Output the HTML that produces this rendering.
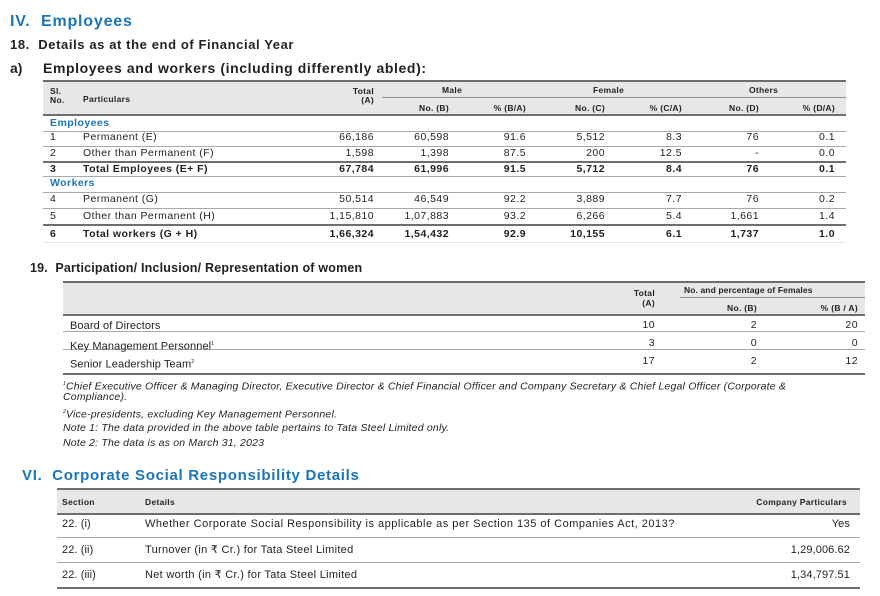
<!DOCTYPE html>
<html><head><meta charset="utf-8"><style>
*{margin:0;padding:0;box-sizing:border-box}
body{width:880px;height:596px;background:#fff;position:relative;overflow:hidden;font-family:"Liberation Sans",sans-serif;color:#231f20}
.t{position:absolute;white-space:nowrap;font-size:10px;line-height:12px}
.d{font-size:10.5px;letter-spacing:0.45px}
.r{text-align:right}
.b{font-weight:bold}
.blue{color:#1a75bb}
.hd{font-size:8.5px;font-weight:bold;letter-spacing:0.3px}
.band{position:absolute;background:#e6e7e8}
.ln{position:absolute;height:1px;background:#a7a9ac}
.dk{background:#6d6e71;height:2px}
.n{font-size:11px;letter-spacing:0.1px}
.it{font-style:italic;font-size:10.5px;letter-spacing:0.2px}
</style></head><body>
<div class="t b blue" style="left:10px;top:13px;font-size:16px;line-height:18px;letter-spacing:0.8px">IV.&nbsp; Employees</div>
<div class="t b" style="left:10px;top:38px;font-size:13px;line-height:14px;letter-spacing:0.6px">18.&nbsp; Details as at the end of Financial Year</div>
<div class="t b" style="left:10px;top:60px;font-size:14px;line-height:16px">a)</div>
<div class="t b" style="left:43px;top:60px;font-size:14px;line-height:16px;letter-spacing:0.6px">Employees and workers (including differently abled):</div>

<!-- Table 1 -->
<div class="band" style="left:43px;top:81px;width:803px;height:34px"></div>
<div class="ln dk" style="left:43px;top:80px;width:803px"></div>
<div class="ln" style="left:382px;top:97px;width:464px;background:#8a8c8e"></div>
<div class="ln dk" style="left:43px;top:114px;width:803px"></div>
<div class="t hd" style="left:50px;top:87px;line-height:9px">Sl.<br>No.</div>
<div class="t hd" style="left:83px;top:93px">Particulars</div>
<div class="t hd r" style="right:506px;top:87px;line-height:9px">Total<br>(A)</div>
<div class="t hd" style="left:442px;top:84px">Male</div>
<div class="t hd" style="left:593px;top:84px">Female</div>
<div class="t hd" style="left:749px;top:84px">Others</div>
<div class="t hd r" style="right:431px;top:102px">No. (B)</div>
<div class="t hd r" style="right:354px;top:102px">% (B/A)</div>
<div class="t hd r" style="right:275px;top:102px">No. (C)</div>
<div class="t hd r" style="right:198px;top:102px">% (C/A)</div>
<div class="t hd r" style="right:121px;top:102px">No. (D)</div>
<div class="t hd r" style="right:45px;top:102px">% (D/A)</div>

<div class="t b blue d" style="left:50px;top:117px">Employees</div>
<div class="ln" style="left:43px;top:131px;width:803px"></div>
<div class="ln" style="left:43px;top:146px;width:803px"></div>
<div class="ln dk" style="left:43px;top:161px;width:803px"></div>
<div class="ln" style="left:43px;top:176px;width:803px"></div>
<div class="t b blue d" style="left:50px;top:177px">Workers</div>
<div class="ln" style="left:43px;top:192px;width:803px"></div>
<div class="ln" style="left:43px;top:208px;width:803px"></div>
<div class="ln dk" style="left:43px;top:224px;width:803px"></div>
<div class="ln" style="left:43px;top:242px;width:803px;background:#e6e7e8"></div>

<div class="t d" style="left:50px;top:131px">1</div><div class="t d" style="left:83px;top:131px">Permanent (E)</div>
<div class="t r d" style="right:506px;top:131px">66,186</div><div class="t r d" style="right:431px;top:131px">60,598</div><div class="t r d" style="right:354px;top:131px">91.6</div><div class="t r d" style="right:275px;top:131px">5,512</div><div class="t r d" style="right:198px;top:131px">8.3</div><div class="t r d" style="right:121px;top:131px">76</div><div class="t r d" style="right:45px;top:131px">0.1</div>

<div class="t d" style="left:50px;top:147px">2</div><div class="t d" style="left:83px;top:147px">Other than Permanent (F)</div>
<div class="t r d" style="right:506px;top:147px">1,598</div><div class="t r d" style="right:431px;top:147px">1,398</div><div class="t r d" style="right:354px;top:147px">87.5</div><div class="t r d" style="right:275px;top:147px">200</div><div class="t r d" style="right:198px;top:147px">12.5</div><div class="t r d" style="right:121px;top:147px">-</div><div class="t r d" style="right:45px;top:147px">0.0</div>

<div class="t b d" style="left:50px;top:163px">3</div><div class="t b d" style="left:83px;top:163px">Total Employees (E+ F)</div>
<div class="t r b d" style="right:506px;top:163px">67,784</div><div class="t r b d" style="right:431px;top:163px">61,996</div><div class="t r b d" style="right:354px;top:163px">91.5</div><div class="t r b d" style="right:275px;top:163px">5,712</div><div class="t r b d" style="right:198px;top:163px">8.4</div><div class="t r b d" style="right:121px;top:163px">76</div><div class="t r b d" style="right:45px;top:163px">0.1</div>

<div class="t d" style="left:50px;top:193px">4</div><div class="t d" style="left:83px;top:193px">Permanent (G)</div>
<div class="t r d" style="right:506px;top:193px">50,514</div><div class="t r d" style="right:431px;top:193px">46,549</div><div class="t r d" style="right:354px;top:193px">92.2</div><div class="t r d" style="right:275px;top:193px">3,889</div><div class="t r d" style="right:198px;top:193px">7.7</div><div class="t r d" style="right:121px;top:193px">76</div><div class="t r d" style="right:45px;top:193px">0.2</div>

<div class="t d" style="left:50px;top:210px">5</div><div class="t d" style="left:83px;top:210px">Other than Permanent (H)</div>
<div class="t r d" style="right:506px;top:210px">1,15,810</div><div class="t r d" style="right:431px;top:210px">1,07,883</div><div class="t r d" style="right:354px;top:210px">93.2</div><div class="t r d" style="right:275px;top:210px">6,266</div><div class="t r d" style="right:198px;top:210px">5.4</div><div class="t r d" style="right:121px;top:210px">1,661</div><div class="t r d" style="right:45px;top:210px">1.4</div>

<div class="t b d" style="left:50px;top:228px">6</div><div class="t b d" style="left:83px;top:228px">Total workers (G + H)</div>
<div class="t r b d" style="right:506px;top:228px">1,66,324</div><div class="t r b d" style="right:431px;top:228px">1,54,432</div><div class="t r b d" style="right:354px;top:228px">92.9</div><div class="t r b d" style="right:275px;top:228px">10,155</div><div class="t r b d" style="right:198px;top:228px">6.1</div><div class="t r b d" style="right:121px;top:228px">1,737</div><div class="t r b d" style="right:45px;top:228px">1.0</div>

<!-- Table 2 -->
<div class="t b" style="left:30px;top:261px;font-size:12.5px;line-height:14px;letter-spacing:0.2px">19.&nbsp; Participation/ Inclusion/ Representation of women</div>
<div class="band" style="left:63px;top:282px;width:802px;height:33px"></div>
<div class="ln dk" style="left:63px;top:281px;width:802px"></div>
<div class="ln" style="left:680px;top:297px;width:185px;background:#8a8c8e"></div>
<div class="ln dk" style="left:63px;top:314px;width:802px"></div>
<div class="t hd r" style="right:225px;top:288px;line-height:10px">Total<br>(A)</div>
<div class="t hd" style="left:684px;top:284px;letter-spacing:0.1px">No. and percentage of Females</div>
<div class="t hd r" style="right:123px;top:302px">No. (B)</div>
<div class="t hd r" style="right:22px;top:302px">% (B / A)</div>
<div class="ln" style="left:63px;top:331px;width:802px"></div>
<div class="ln" style="left:63px;top:349px;width:802px"></div>
<div class="ln dk" style="left:63px;top:373px;width:802px"></div>
<div class="t n" style="left:70px;top:320px">Board of Directors</div>
<div class="t r d" style="right:225px;top:319px">10</div><div class="t r d" style="right:123px;top:319px">2</div><div class="t r d" style="right:22px;top:319px">20</div>
<div class="t n" style="left:70px;top:338px">Key Management Personnel<sup style="font-size:5px">1</sup></div>
<div class="t r d" style="right:225px;top:337px">3</div><div class="t r d" style="right:123px;top:337px">0</div><div class="t r d" style="right:22px;top:337px">0</div>
<div class="t n" style="left:70px;top:356px">Senior Leadership Team<sup style="font-size:5px">2</sup></div>
<div class="t r d" style="right:225px;top:355px">17</div><div class="t r d" style="right:123px;top:355px">2</div><div class="t r d" style="right:22px;top:355px">12</div>
<div class="t it" style="left:63px;top:378px"><sup style="font-size:5px">1</sup>Chief Executive Officer &amp; Managing Director, Executive Director &amp; Chief Financial Officer and Company Secretary &amp; Chief Legal Officer (Corporate &amp;</div>
<div class="t it" style="left:63px;top:391px">Compliance).</div>
<div class="t it" style="left:63px;top:406px"><sup style="font-size:5px">2</sup>Vice-presidents, excluding Key Management Personnel.</div>
<div class="t it" style="left:63px;top:422px">Note 1: The data provided in the above table pertains to Tata Steel Limited only.</div>
<div class="t it" style="left:63px;top:437px">Note 2: The data is as on March 31, 2023</div>

<!-- Table 3 -->
<div class="t b blue" style="left:22px;top:467px;font-size:15px;line-height:17px;letter-spacing:0.7px">VI.&nbsp; Corporate Social Responsibility Details</div>
<div class="band" style="left:57px;top:489px;width:803px;height:25px"></div>
<div class="ln dk" style="left:57px;top:488px;width:803px"></div>
<div class="ln dk" style="left:57px;top:513px;width:803px"></div>
<div class="t hd" style="left:62px;top:496px">Section</div>
<div class="t hd" style="left:145px;top:496px">Details</div>
<div class="t hd r" style="right:33px;top:496px">Company Particulars</div>
<div class="ln" style="left:57px;top:537px;width:803px"></div>
<div class="ln" style="left:57px;top:562px;width:803px"></div>
<div class="ln dk" style="left:57px;top:587px;width:803px"></div>
<div class="t n" style="left:62px;top:518px">22. (i)</div>
<div class="t n" style="left:145px;top:518px;letter-spacing:0.5px">Whether Corporate Social Responsibility is applicable as per Section 135 of Companies Act, 2013?</div>
<div class="t n r" style="right:30px;top:518px">Yes</div>
<div class="t n" style="left:62px;top:544px">22. (ii)</div>
<div class="t n" style="left:145px;top:544px;letter-spacing:0.3px">Turnover (in ₹ Cr.) for Tata Steel Limited</div>
<div class="t n r" style="right:30px;top:544px">1,29,006.62</div>
<div class="t n" style="left:62px;top:569px">22. (iii)</div>
<div class="t n" style="left:145px;top:569px;letter-spacing:0.3px">Net worth (in ₹ Cr.) for Tata Steel Limited</div>
<div class="t n r" style="right:30px;top:569px">1,34,797.51</div>
</body></html>
